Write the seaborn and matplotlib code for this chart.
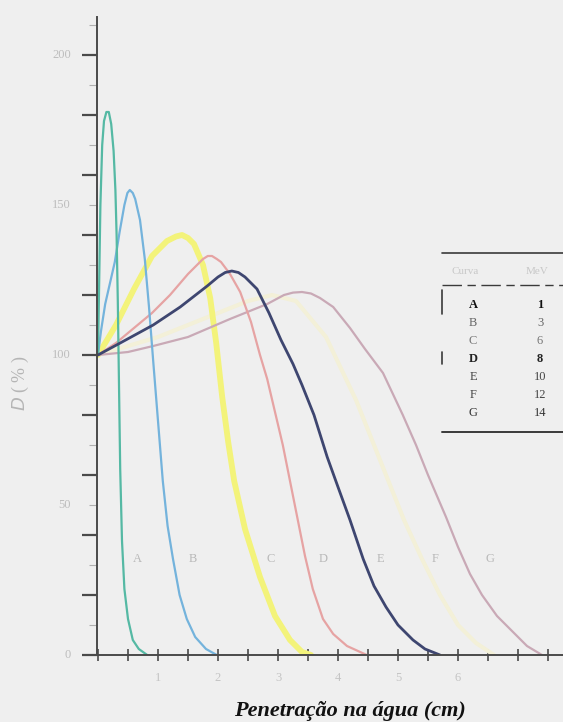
import matplotlib
matplotlib.use("Agg")
import matplotlib.pyplot as plt
from matplotlib.lines import Line2D
from matplotlib.ticker import MultipleLocator, FixedLocator
import pandas as pd
import seaborn as sns

# Percent dose vs. depth in water, one curve per beam
curve_names = ["A", "B", "C", "D", "E", "F", "G"]
energies_mev = ["1", "3", "6", "8", "10", "12", "14"]

A_x = [0, 0.02, 0.04, 0.07, 0.10, 0.14, 0.18, 0.22, 0.26, 0.29, 0.31, 0.33, 0.35, 0.37, 0.40, 0.44, 0.50, 0.58, 0.68, 0.82]
A_y = [100, 125, 150, 170, 178, 181, 181, 177, 168, 155, 140, 118, 90, 62, 38, 22, 12, 5, 2, 0]

B_x = [0, 0.05, 0.12, 0.20, 0.28, 0.36, 0.44, 0.49, 0.53, 0.58, 0.62, 0.70, 0.78, 0.85, 0.92, 1.00, 1.08, 1.16, 1.25, 1.36, 1.48, 1.62, 1.80, 1.98]
B_y = [100, 108, 117, 124, 131, 141, 150, 154, 155, 154, 152, 145, 132, 116, 98, 78, 58, 43, 32, 20, 12, 6, 2, 0]

C_x = [0, 0.3, 0.6, 0.9, 1.15, 1.3, 1.4, 1.5, 1.6, 1.75, 1.87, 1.97, 2.07, 2.17, 2.27, 2.45, 2.7, 2.95, 3.2, 3.4, 3.55]
C_y = [100, 110, 122, 133, 138, 139.5, 140, 139, 137, 130, 119, 104, 86, 71, 58, 42, 26, 13, 5, 1, 0]

D_x = [0, 0.3, 0.6, 0.9, 1.2, 1.5, 1.75, 1.83, 1.9, 1.98, 2.05, 2.2, 2.37, 2.55, 2.7, 2.82, 2.95, 3.08, 3.2, 3.33, 3.45, 3.58, 3.75, 3.92, 4.15, 4.48]
D_y = [100, 104, 109, 114, 120, 127, 132, 133, 133, 132, 131, 127, 121, 111, 100, 92, 81, 70, 58, 45, 33, 22, 12, 7, 3, 0]

E_x = [0, 0.37, 0.92, 1.37, 1.82, 2.0, 2.12, 2.23, 2.34, 2.45, 2.65, 2.85, 3.05, 3.25, 3.4, 3.6, 3.82, 4.0, 4.2, 4.42, 4.6, 4.8, 5.0, 5.25, 5.45, 5.7]
E_y = [100, 104, 110, 116, 123, 126, 127.5, 128, 127.5, 126, 122, 114, 105, 97, 90, 80, 66, 56, 45, 32, 23, 16, 10, 5, 2, 0]

F_x = [0, 1.0, 2.0, 2.5, 2.9, 3.3, 3.8, 4.3, 4.8, 5.1, 5.4, 5.7, 6.0, 6.3, 6.6]
F_y = [100, 106, 114, 118, 120, 118, 106, 85, 60, 45, 32, 20, 10, 4, 0]

G_x = [0, 0.5, 0.92, 1.5, 2.2, 2.82, 3.1, 3.25, 3.4, 3.55, 3.7, 3.92, 4.2, 4.45, 4.75, 5.08, 5.3, 5.5, 5.8, 6.0, 6.2, 6.4, 6.65, 6.9, 7.15, 7.4]
G_y = [100, 101, 103, 106, 112, 117, 120, 120.8, 121, 120.5, 119, 116, 109, 102, 94, 80, 70, 60, 46, 36, 27, 20, 13, 8, 3, 0]

label_x = [0.65, 1.58, 2.87, 3.75, 4.70, 5.62, 6.53]
label_y = 32

curves = {"A": (A_x, A_y), "B": (B_x, B_y), "C": (C_x, C_y), "D": (D_x, D_y),
          "E": (E_x, E_y), "F": (F_x, F_y), "G": (G_x, G_y)}
colors = {"A": "#55b9a4", "B": "#74b3dc", "C": "#f3f37a", "D": "#e6a3a3",
          "E": "#3e4670", "F": "#f3f0d8", "G": "#c9a9b6"}
widths = {"A": 1.6, "B": 1.6, "C": 4.2, "D": 1.6, "E": 2.0, "F": 3.0, "G": 1.6}

bg = "#efefef"
sns.set_theme(style="white")
plt.rcParams["font.family"] = ["Liberation Serif", "DejaVu Serif"]

W, H = 563, 722
fig = plt.figure(figsize=(W / 100, H / 100), dpi=100, facecolor=bg)
ax = fig.add_axes([97 / W, 67 / H, (W - 97) / W, (655 - 17) / H])
ax.set_facecolor(bg)

draw_order = ["F", "C", "G", "D", "B", "A", "E"]
for name in draw_order:
    xs, ys = curves[name]
    df = pd.DataFrame({"x": xs, "y": ys})
    sns.lineplot(data=df, x="x", y="y", ax=ax, color=colors[name],
                 linewidth=widths[name], sort=False, estimator=None,
                 solid_joinstyle="round", solid_capstyle="round")

for name, lx in zip(curve_names, label_x):
    ax.text(lx, label_y, name, fontsize=9, color="#b8b8b8",
            ha="center", va="center")

ax.set_xlim(-1 / 60, (W - 98) / 60)
ax.set_ylim(0, (655 - 17) / 3)

for side in ["top", "right"]:
    ax.spines[side].set_visible(False)
for side in ["left", "bottom"]:
    ax.spines[side].set_color("#4a4a4a")
    ax.spines[side].set_linewidth(1.4)

ax.xaxis.set_major_locator(FixedLocator([1, 2, 3, 4, 5, 6]))
ax.xaxis.set_minor_locator(MultipleLocator(0.5))
ax.set_xticklabels(["1", "2", "3", "4", "5", "6"])
ax.tick_params(axis="x", which="both", direction="inout", length=9, width=1.2,
               colors="#4a4a4a", labelcolor="#c4c4c4", labelsize=9, pad=8)
ax.tick_params(axis="x", which="both", bottom=True)

ax.yaxis.set_major_locator(MultipleLocator(20))
ax.yaxis.set_minor_locator(MultipleLocator(10))
ax.set_yticklabels([])
ax.tick_params(axis="y", which="major", direction="out", length=11, width=1.6,
               colors="#4a4a4a", left=True)
ax.tick_params(axis="y", which="minor", direction="out", length=6, width=0.8,
               colors="#b0b0b0", left=True)
for v in [0, 50, 100, 150, 200]:
    ax.text(-0.45, v, str(v), fontsize=9, color="#bdbdbd", ha="right", va="center")

ax.set_xlabel("")
ax.set_ylabel("")
fig.text(350 / W, 1 - 711 / H, "Penetração na água (cm)", fontsize=16,
         fontweight="bold", fontstyle="italic", color="#111111",
         ha="center", va="center")
fig.text(20 / W, 1 - 383 / H, r"$D$ ( % )", fontsize=13, color="#b5b5b5",
         rotation=90, ha="center", va="center")

# Energy table on the right
def fx(px):
    return px / W


def fy(py):
    return 1 - py / H


rule = "#3a3a3a"
fig.add_artist(Line2D([fx(442), fx(563)], [fy(253), fy(253)], color=rule, lw=1.2))
fig.add_artist(Line2D([fx(442), fx(563)], [fy(285), fy(285)], color=rule, lw=1.0,
                      linestyle=(0, (14, 4, 6, 4))))
fig.add_artist(Line2D([fx(442), fx(563)], [fy(432), fy(432)], color=rule, lw=1.4))
fig.add_artist(Line2D([fx(442), fx(442)], [fy(290), fy(314)], color=rule, lw=1.2))
fig.add_artist(Line2D([fx(442), fx(442)], [fy(352), fy(364)], color=rule, lw=1.2))
fig.text(fx(465), fy(271), "Curva", fontsize=8, color="#c8c8c8", ha="center", va="center")
fig.text(fx(537), fy(271), "MeV", fontsize=8, color="#c8c8c8", ha="center", va="center")

row_y = [305, 323, 341, 359, 377, 395, 413]
row_col = ["#111111", "#666666", "#777777", "#222222", "#444444", "#444444", "#333333"]
for name, e, ry, c in zip(curve_names, energies_mev, row_y, row_col):
    fig.text(fx(473), fy(ry), name, fontsize=9, color=c, ha="center", va="center",
             fontweight="bold" if name in ("A", "D") else "normal")
    fig.text(fx(540), fy(ry), e, fontsize=9, color=c, ha="center", va="center",
             fontweight="bold" if name in ("A", "D") else "normal")

fig.savefig("out.png", dpi=100, facecolor=bg)
